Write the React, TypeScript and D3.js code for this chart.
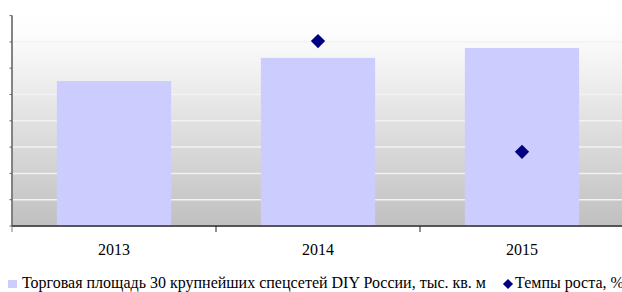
import React from "react";
import * as d3 from "d3";

const categories = ["2013", "2014", "2015"];
const areaValues = [5510, 6390, 6770];
const growthYears = ["2014", "2015"];
const growthValues = [16.7, 6.7];
const yTicks = [0, 1000, 2000, 3000, 4000, 5000, 6000, 7000, 8000];
const seriesNames = ["Торговая площадь 30 крупнейших спецсетей DIY России, тыс. кв. м", "Темпы роста, %"];

const W = 622, H = 292;
const left = 12, right = 624, top = 15.6, bottom = 226;

export default function App() {
  const x = d3.scaleBand().domain(categories).range([left, right]).paddingInner(0.44).paddingOuter(0.22);
  const xb = d3.scaleBand().domain(categories).range([left, right]);
  const y = d3.scaleLinear().domain([0, 8000]).range([bottom, top]);
  const y2 = d3.scaleLinear().domain([0, 19]).range([bottom, top]);
  const diamond = d3.symbol().type(d3.symbolDiamond2).size(130)();
  const diamondSmall = d3.symbol().type(d3.symbolDiamond2).size(65)();
  const font = "'Liberation Serif', 'Times New Roman', serif";
  return (
    <svg width={W} height={H} style={{ position: "absolute", left: 0, top: 0 }}>
      <defs>
        <linearGradient id="bg" x1="0" y1="0" x2="0" y2="1">
          <stop offset="0" stopColor="#ffffff" />
          <stop offset="0.1" stopColor="#fcfcfc" />
          <stop offset="1" stopColor="#c0c0c0" />
        </linearGradient>
      </defs>
      <rect x={left} y={top} width={W - left} height={bottom - top} fill="url(#bg)" />
      {yTicks.slice(1, -1).map((t) => (
        <line key={t} x1={left} x2={W} y1={y(t)} y2={y(t)} stroke="#f2f2f2" strokeWidth={1.5} />
      ))}
      {categories.map((c, i) => (
        <rect key={c} x={x(c)} y={y(areaValues[i])} width={x.bandwidth()} height={bottom - y(areaValues[i])} fill="#ccccff" />
      ))}
      {growthYears.map((c, i) => (
        <path key={c} d={diamond} transform={`translate(${xb(c)! + xb.bandwidth() / 2},${y2(growthValues[i])})`} fill="#000080" />
      ))}
      <line x1={left} x2={left} y1={bottom} y2={bottom + 6} stroke="#aaa" strokeWidth={1.5} />
      <line x1={left} x2={left} y1={top} y2={bottom} stroke="#777" strokeWidth={1.8} />
      <line x1={left} x2={W} y1={bottom} y2={bottom} stroke="#555" strokeWidth={2} />
      {yTicks.map((t) => (
        <line key={t} x1={left - 2.5} x2={left} y1={y(t)} y2={y(t)} stroke="#666" strokeWidth={1} />
      ))}
      {categories.slice(1).map((c) => (
        <line key={c} x1={xb(c)} x2={xb(c)} y1={bottom} y2={bottom + 6} stroke="#222" strokeWidth={1} />
      ))}
      {categories.map((c) => (
        <text key={c} x={xb(c)! + xb.bandwidth() / 2} y={255} textAnchor="middle" fontFamily={font} fontSize={16} fill="#000">{c}</text>
      ))}
      <rect x={8} y={280} width={9} height={8} fill="#ccccff" />
      <text x={22} y={288} fontFamily={font} fontSize={16} fill="#000">{seriesNames[0]}</text>
      <path d={diamondSmall} transform="translate(508,284)" fill="#000080" />
      <text x={515} y={288} fontFamily={font} fontSize={16} fill="#000">{seriesNames[1]}</text>
    </svg>
  );
}
